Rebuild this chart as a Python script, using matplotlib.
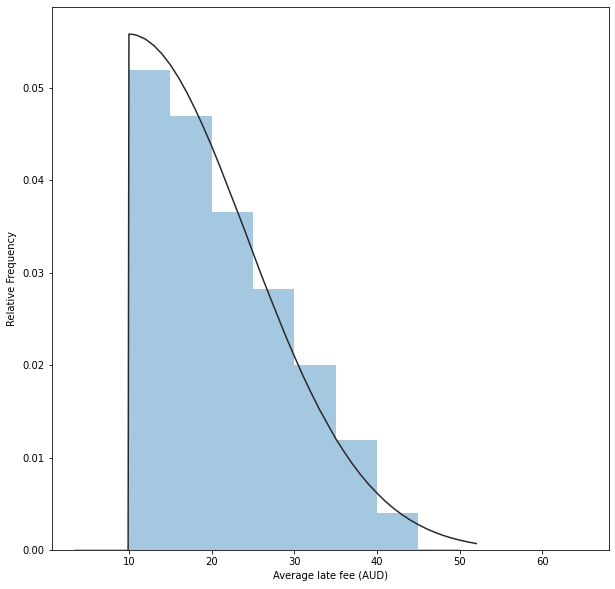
import matplotlib
matplotlib.use("Agg")
import matplotlib.pyplot as plt
import numpy as np

# histogram: 5-unit bins from 10 to 65, density values
bin_edges = [10, 15, 20, 25, 30, 35, 40, 45, 50, 55, 60, 65]
density = [0.0519, 0.0469, 0.0366, 0.0283, 0.0200, 0.0119, 0.0040, 0.0002, 0.0, 0.0, 0.0]

# fitted curve, points
fit_x = [3.5, 9.9, 10, 10.5, 11, 12, 13, 14, 15, 16, 17, 18, 19, 20, 21, 22, 23,
         24, 25, 26, 27, 28, 29, 30, 31, 32, 33, 34, 35, 36, 37, 38, 39, 40,
         41, 42, 43, 44, 45, 46, 47, 48, 49, 50, 51, 52]
fit_y = [0.0, 0.0, 0.0558, 0.05577, 0.05566, 0.05526, 0.05458, 0.05366,
         0.05249, 0.0511, 0.0495, 0.0477, 0.04577, 0.0437, 0.04151, 0.0392,
         0.03691, 0.0346, 0.03219, 0.0298, 0.02753, 0.0253, 0.02308, 0.0210,
         0.01898, 0.0171, 0.01531, 0.0137, 0.0121, 0.0107, 0.00939, 0.0082,
         0.00714, 0.0062, 0.00532, 0.00456, 0.00389, 0.0033, 0.00279, 0.00234,
         0.00196, 0.00163, 0.00135, 0.00112, 0.00092, 0.00075]

fig = plt.figure(figsize=(615 / 72, 589 / 72), dpi=72)
ax = fig.add_axes([0.0841, 0.0654, 0.906, 0.9222])

widths = np.diff(bin_edges)
ax.bar(bin_edges[:-1], density, width=widths, align='edge',
       color='#1f77b4', alpha=0.4, linewidth=0)
ax.plot(fit_x, fit_y, color='#282828', linewidth=1.5)

ax.set_xlim(0.66, 68.05)
ax.set_ylim(0, 0.0587)
ax.set_xticks([10, 20, 30, 40, 50, 60])
ax.set_yticks([0.0, 0.01, 0.02, 0.03, 0.04, 0.05])
ax.set_xlabel('Average late fee (AUD)')
ax.set_ylabel('Relative Frequency', labelpad=5.5)

fig.savefig('out.png', dpi=72)
